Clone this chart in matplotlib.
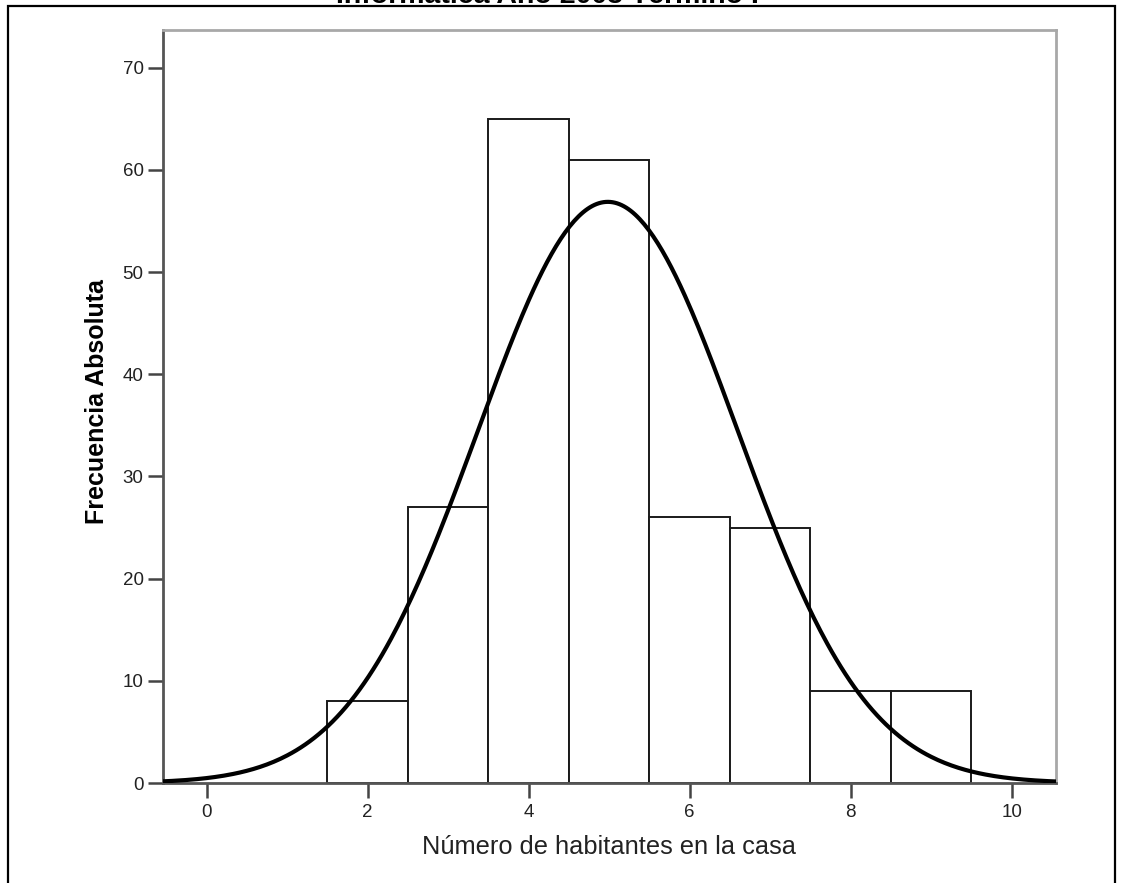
import numpy as np
import matplotlib.pyplot as plt
from matplotlib.patches import Rectangle

plt.rcParams['font.family'] = ['Liberation Sans', 'DejaVu Sans']

# Frecuencias por número de habitantes
habitantes = [2, 3, 4, 5, 6, 7, 8, 9]
frecuencia = [8, 27, 65, 61, 26, 25, 9, 9]
xticks = [0, 2, 4, 6, 8, 10]
yticks = [0, 10, 20, 30, 40, 50, 60, 70]

x = np.array(habitantes, dtype=float)
f = np.array(frecuencia, dtype=float)
n = f.sum()
media = (x * f).sum() / n
sd = np.sqrt(((x - media) ** 2 * f).sum() / (n - 1))

fig = plt.figure(figsize=(11.23, 8.83), dpi=100)
ax = fig.add_axes([163 / 1123, 1 - 783 / 883, (1056 - 163) / 1123, (783 - 30) / 883])

ax.bar(x, f, width=1.0, color='white', edgecolor='#1a1a1a', linewidth=1.4, zorder=2)

# curva normal con la media y desviación de los datos
xs = np.linspace(-0.6, 10.6, 400)
curva = n * 1.0 / (sd * np.sqrt(2 * np.pi)) * np.exp(-0.5 * ((xs - media) / sd) ** 2)
ax.plot(xs, curva, color='black', linewidth=3, zorder=3)

ax.set_xlim(-0.543, 10.55)
ax.set_ylim(0, 73.7)
ax.set_xticks(xticks)
ax.set_yticks(yticks)
ax.tick_params(axis='both', direction='out', length=11, width=1.8, color='#444444',
               labelsize=13.5, labelcolor='#222222')
ax.tick_params(axis='x', pad=4)
ax.tick_params(axis='y', pad=3)

for lado in ['left', 'bottom']:
    ax.spines[lado].set_color('#555555')
    ax.spines[lado].set_linewidth(2)
for lado in ['top', 'right']:
    ax.spines[lado].set_color('#a8a8a8')
    ax.spines[lado].set_linewidth(2)

ax.set_xlabel('Número de habitantes en la casa', fontsize=18.3, color='#222222', labelpad=10)
ax.set_ylabel('Frecuencia Absoluta', fontsize=18, fontweight='bold')
ax.yaxis.set_label_coords(-0.061, 0.507)

# marco exterior y título recortado
fig.patches.append(Rectangle((8 / 1123, -0.05), (1115 - 8) / 1123, 1.05 - 6 / 883,
                             transform=fig.transFigure, fill=False,
                             edgecolor='black', linewidth=1.6))
fig.text(547 / 1123, 1 - 3 / 883, 'Informática Año 2003 Término I', ha='center', va='baseline',
         fontsize=20.5, fontweight='bold')

fig.savefig('out.png', dpi=100)
